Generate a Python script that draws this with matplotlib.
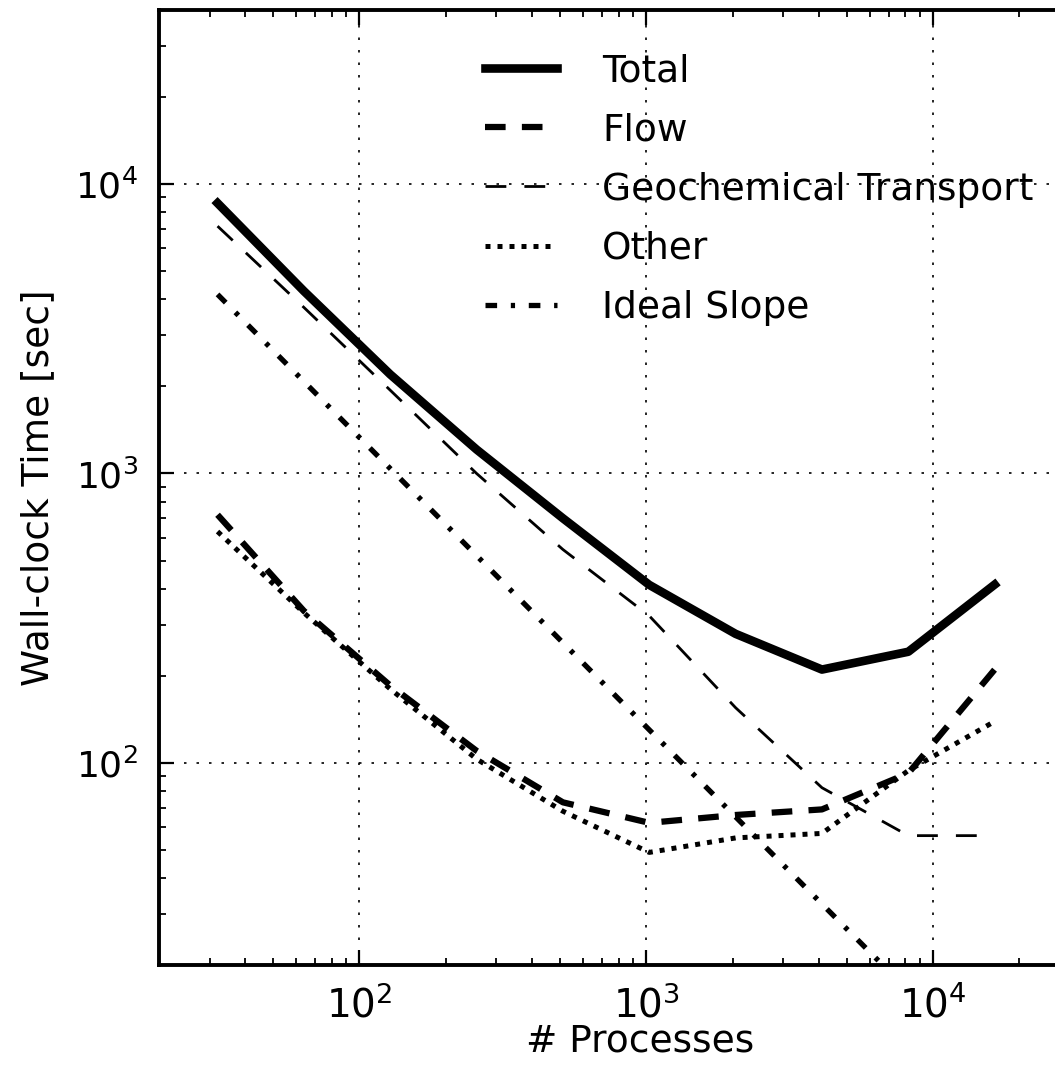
import matplotlib
matplotlib.use("Agg")
import matplotlib.pyplot as plt

# values (log-log)
procs = [32, 64, 128, 256, 512, 1024, 2048, 4096, 8192, 16384]
total = [8600, 4270, 2200, 1210, 700, 412, 279, 210, 242, 413]
flow = [720, 335, 185, 110, 73, 62, 66, 69, 92, 210]
geochem = [7160, 3750, 1940, 1000, 546, 322, 155, 82, 56, 56]
other = [630, 330, 180, 103, 68, 49, 55, 57, 94, 139]
ideal = [4160, 2080, 1040, 520, 260, 130, 65, 32.5, 16.3, 8.1]

labels = ["Total", "Flow", "Geochemical Transport", "Other", "Ideal Slope"]

plt.rcParams["font.family"] = ["DejaVu Sans"]

fig = plt.figure(figsize=(10.55, 10.70), dpi=100)
# axes runs past the right edge of the picture, like the cropped original
ax = fig.add_axes([159 / 1055, 105 / 1070, 911 / 1055, 955 / 1070])

ax.plot(procs, total, color="black", lw=6.2, label=labels[0])
ax.plot(procs, flow, color="black", lw=4.5, dashes=(3.3, 2.6), dash_capstyle="butt", label=labels[1])
ax.plot(procs, geochem, color="black", lw=2.0, dashes=(7.5, 6.5), dash_capstyle="butt", label=labels[2])
ax.plot(procs, other, color="black", lw=3.6, dashes=(1.0, 1.4), dash_capstyle="butt", label=labels[3])
ax.plot(procs, ideal, color="black", lw=3.8, dashes=(2.2, 2.6, 0.8, 2.6), dash_capstyle="butt", label=labels[4])

ax.set_xscale("log")
ax.set_yscale("log")
ax.set_xlim(20, 30000)
ax.set_ylim(20, 40000)

ax.grid(True, which="major", color="black", lw=1.2, linestyle=(0, (1.5, 6)))

for side in ax.spines.values():
    side.set_linewidth(2.8)

ax.tick_params(which="both", direction="in", top=True, right=True)
ax.tick_params(which="major", length=10.5, width=1.6)
ax.tick_params(which="minor", length=5, width=1.3)
ax.tick_params(axis="x", which="major", labelsize=28, pad=15)
ax.tick_params(axis="y", which="major", labelsize=26, pad=15)

ax.set_xlabel("# Processes", fontsize=27)
ax.set_ylabel("Wall-clock Time [sec]", fontsize=27)
ax.xaxis.set_label_coords((640 - 159) / 911, -(1024 - 965) / 955)
ax.yaxis.set_label_coords((56 - 159) / 911, 0.5)

leg = ax.legend(loc="upper left", bbox_to_anchor=((485 - 159) / 911, 1 - (53 - 10) / 955),
                frameon=False, fontsize=27, handlelength=1.92, handletextpad=1.2,
                labelspacing=0.62, borderpad=0, borderaxespad=0)

fig.savefig("out.png", dpi=100)
